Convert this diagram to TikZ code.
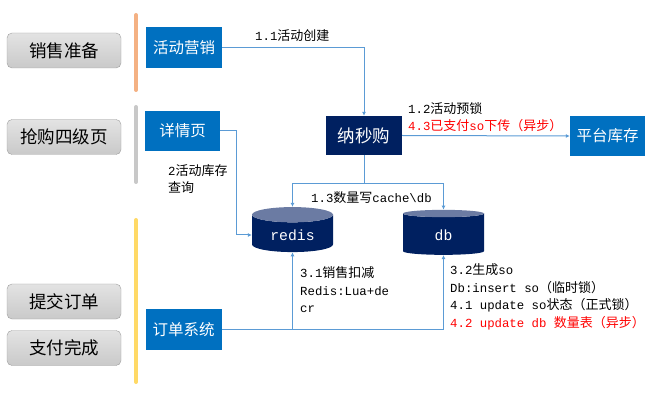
\documentclass[tikz,border=0pt]{standalone}
\usepackage{fontspec}
\usepackage{tikz}
\usetikzlibrary{shapes.geometric,arrows.meta,positioning}
\setmainfont{Noto Sans CJK SC}
\newfontfamily\monof[Scale=0.95]{Liberation Mono}
\newcommand\asc[1]{{\monof #1}}
\newcommand\lowtxt[1]{\raisebox{-5pt}{#1}}
\definecolor{sysblue}{HTML}{0070C0}
\definecolor{navy}{HTML}{002060}
\definecolor{navytop}{HTML}{6B7BA3}
\definecolor{linkblue}{HTML}{5B9BD5}
\definecolor{barorange}{HTML}{F4B183}
\definecolor{bargray}{HTML}{C8C8C8}
\definecolor{baryellow}{HTML}{FFD966}
\tikzset{
	stage/.style={draw=gray!75,rounded corners=5pt,top color=gray!22,bottom color=gray!42,minimum width=114,minimum height=35,font=\fontsize{17.5}{17.5}\selectfont},
	sysbox/.style={fill=sysblue,text=white,minimum width=76,minimum height=41,font=\fontsize{15.5}{15.5}\selectfont},
	store/.style={cylinder,shape border rotate=90,aspect=0.3,cylinder uses custom fill,cylinder body fill=navy,cylinder end fill=navytop,minimum width=81,minimum height=45,text=white,font=\monof\fontsize{15.5}{15.5}\selectfont},
	link/.style={draw=linkblue,line width=1pt},
	lbl/.style={font=\fontsize{13}{17.5}\selectfont,align=left,inner sep=0pt},
	bar/.style={line width=4pt,line cap=round}
}

\begin{document}
\begin{tikzpicture}[x=1pt,y=-1pt,>={Latex[length=4pt,width=4pt]}]
	\useasboundingbox (0,0) rectangle (667,406);
	% stages
	\node[stage] (s1) at (64,50.5) {销售准备};
	\node[stage] (s2) at (64,137) {抢购四级页};
	\node[stage] (s3) at (64,301.5) {提交订单};
	\node[stage] (s4) at (64,348) {支付完成};
	\draw[bar,draw=barorange] (136,15) -- (136,90);
	\draw[bar,draw=bargray] (136,107) -- (136,182);
	\draw[bar,draw=baryellow] (136,220) -- (136,382);
	% systems
	\node[sysbox] (yx) at (184,47.5) {活动营销};
	\node[sysbox,minimum width=75,minimum height=40] (xqy) at (182.5,131) {详情页};
	\node[sysbox] (ddxt) at (183.5,329.5) {订单系统};
	\node[sysbox,minimum width=75,minimum height=40] (kc) at (607.5,136) {平台库存};
	\node[sysbox,fill=navy,minimum height=39,font=\fontsize{17.5}{17.5}\selectfont] (nmg) at (364,135.5) {纳秒购};
	\node[store] (redis) at (292.5,235) {\lowtxt{redis}};
	\node[store] (db) at (443.5,235) {\lowtxt{db}};
	% links
	\draw[link,->] (yx.east) -| (nmg.north);
	\draw[link,->] (nmg.east) -- (kc.west);
	\coordinate (bus) at (364,184);
	\draw[link] (nmg.south) -- (bus);
	\draw[link,->] (bus) -| (redis.north);
	\draw[link,->] (bus) -| (db.north);
	\draw[link,->] (xqy.east) -- ++(16,0) |- (redis.west);
	\draw[link,->] (ddxt.east) -| (db.south);
	\draw[link,->] (ddxt.east -| redis.south) -- (redis.south);
	% labels
	\node[lbl,anchor=west] (l11) at (255,36) {\asc{1.1}活动创建};
	\node[lbl,anchor=west] (l12) at (408,109) {\asc{1.2}活动预锁};
	\node[lbl,anchor=west,text=red] (l43) at (408,126) {\asc{4.3}已支付\asc{so}下传（异步）};
	\node[lbl,anchor=west] (l13) at (311,198) {\asc{1.3}数量写\asc{cache\textbackslash db}};
	\node[lbl,anchor=north west] (l2) at (168,164) {\asc{2}活动库存\\查询};
	\node[lbl,anchor=north west] (l31) at (300,266.5) {\asc{3.1}销售扣减\\\asc{Redis:Lua+de}\\\asc{cr}};
	\node[lbl,anchor=north west] (l32) at (450,263.5) {\asc{3.2}生成\asc{so}\\\asc{Db:insert so}（临时锁）\\\asc{4.1 update so}状态（正式锁）\\\textcolor{red}{\asc{4.2 update db }数量表（异步）}};
\end{tikzpicture}
\end{document}
